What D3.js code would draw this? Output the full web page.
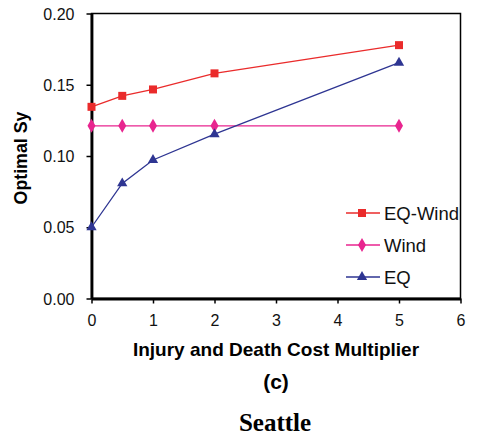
<!DOCTYPE html>
<html>
<head>
<meta charset="utf-8">
<script src="https://cdn.jsdelivr.net/npm/d3@7"></script>
<style>
  body { margin: 0; background: #fff; }
  text { font-family: "Liberation Sans", Arial, sans-serif; }
</style>
</head>
<body>
<svg id="svg" width="480" height="441"></svg>
<script>
// data
const multipliers = [0, 0.5, 1, 2, 5]
const eqWind = [0.1345, 0.1422, 0.1467, 0.158, 0.1778]
const wind = [0.1212, 0.1212, 0.1212, 0.1212, 0.1212]
const eq = [0.0500, 0.0808, 0.0972, 0.1153, 0.1655]
const xTicks = [0, 1, 2, 3, 4, 5, 6]
const yTicks = [0, 0.05, 0.10, 0.15, 0.20]

const series = [
    { name: 'EQ-Wind', values: eqWind, color: '#ea2b2b', shape: d3.symbolSquare, size: 64 },
    { name: 'Wind', values: wind, color: '#e8258f', shape: d3.symbolDiamond, size: 56 },
    { name: 'EQ', values: eq, color: '#2e3592', shape: d3.symbolTriangle, size: 46 }
]

const svg = d3.select('#svg')
const plotLeft = 91.5, plotRight = 460.5, plotTop = 13.5, plotBottom = 298.5

const x = d3.scaleLinear().domain([0, 6]).range([plotLeft, plotRight])
const y = d3.scaleLinear().domain([0, 0.2]).range([plotBottom, plotTop])

// frame
svg.append('rect')
    .attr('x', plotLeft).attr('y', plotTop)
    .attr('width', plotRight - plotLeft).attr('height', plotBottom - plotTop)
    .attr('fill', 'none').attr('stroke', '#000').attr('stroke-width', 1.5)

const xAxis = svg.append('g')
    .attr('transform', `translate(0,${plotBottom})`)
    .call(d3.axisBottom(x).tickValues(xTicks).tickFormat(d3.format('d')).tickSizeOuter(0).tickSizeInner(5).tickPadding(11))
const yAxis = svg.append('g')
    .attr('transform', `translate(${plotLeft},0)`)
    .call(d3.axisLeft(y).tickValues(yTicks).tickFormat(d3.format('.2f')).tickSizeOuter(0).tickSizeInner(5).tickPadding(12))

for (const g of [xAxis, yAxis]) {
    g.select('.domain').attr('stroke-width', 2.8)
    g.selectAll('.tick line').attr('stroke-width', 1.5)
    g.selectAll('.tick text').attr('font-size', 16).attr('fill', '#111')
}
yAxis.selectAll('.tick text').attr('dy', '0.35em')

const line = d3.line()
    .x((d, i) => x(multipliers[i]))
    .y(d => y(d))

series.forEach(s => {
    svg.append('path')
        .datum(s.values)
        .attr('d', line)
        .attr('fill', 'none')
        .attr('stroke', s.color)
        .attr('stroke-width', 1.3)
    svg.selectAll(null).data(s.values).enter()
        .append('path')
        .attr('d', d3.symbol().type(s.shape).size(s.size))
        .attr('transform', (d, i) => `translate(${x(multipliers[i])},${y(d)})`)
        .attr('fill', s.color)
})

// legend
const legend = svg.append('g')
series.forEach((s, i) => {
    const ly = 213 + i * 32
    legend.append('line')
        .attr('x1', 346).attr('x2', 380).attr('y1', ly).attr('y2', ly)
        .attr('stroke', s.color).attr('stroke-width', 1.3)
    legend.append('path')
        .attr('d', d3.symbol().type(s.shape).size(s.size))
        .attr('transform', `translate(362,${ly})`)
        .attr('fill', s.color)
    legend.append('text')
        .attr('x', 384).attr('y', ly).attr('dy', '0.36em')
        .attr('font-size', 18.5).attr('fill', '#111')
        .text(s.name)
})

// titles
svg.append('text')
    .attr('x', 276).attr('y', 356)
    .attr('text-anchor', 'middle').attr('font-size', 19).attr('font-weight', 'bold')
    .text('Injury and Death Cost Multiplier')
svg.append('text')
    .attr('transform', `translate(27,158) rotate(-90)`)
    .attr('text-anchor', 'middle').attr('font-size', 17.8).attr('font-weight', 'bold')
    .text('Optimal Sy')
svg.append('text')
    .attr('x', 276).attr('y', 389)
    .attr('text-anchor', 'middle').attr('font-size', 21).attr('font-weight', 'bold')
    .text('(c)')
svg.append('text')
    .attr('x', 275).attr('y', 431)
    .attr('text-anchor', 'middle').attr('font-size', 25).attr('font-weight', 'bold')
    .style('font-family', '"Liberation Serif", "Times New Roman", serif')
    .text('Seattle')
</script>
</body>
</html>
